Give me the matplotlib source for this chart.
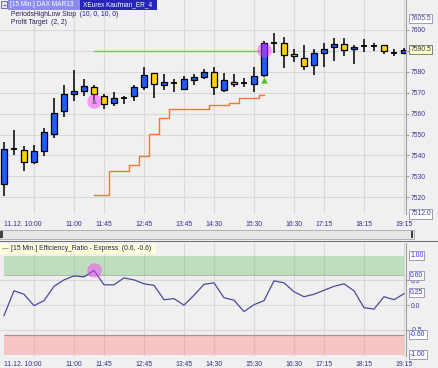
import matplotlib
matplotlib.use("Agg")
import matplotlib.pyplot as plt
from matplotlib.patches import Rectangle
import numpy as np

plt.rcParams['font.family'] = ['Liberation Sans', 'DejaVu Sans']

# ---------------- data ----------------
times = ["09:15", "09:30", "09:45", "10:00", "10:15", "10:30", "10:45", "11:00", "11:15", "11:30",
         "11:45", "12:00", "12:15", "12:30", "12:45", "13:00", "13:15", "13:30", "13:45", "14:00",
         "14:15", "14:30", "14:45", "15:00", "15:15", "15:30", "15:45", "16:00", "16:15", "16:30",
         "16:45", "17:00", "17:15", "17:30", "17:45", "18:00", "18:15", "18:30", "18:45", "19:00", "19:15"]
opens = [7526.5, 7543.0, 7542.7, 7537.0, 7542.0, 7550.3, 7561.0, 7569.3, 7571.0, 7572.9,
         7568.6, 7565.0, 7567.4, 7568.5, 7572.5, 7579.3, 7573.7, 7574.5, 7571.8, 7576.1,
         7577.7, 7579.8, 7571.3, 7575.3, 7574.5, 7574.1, 7578.5, 7593.6, 7593.6, 7588.5,
         7586.8, 7583.3, 7589.2, 7591.7, 7593.3, 7590.8, 7592.4, 7592.4, 7592.8, 7589.2, 7589.0]
highs = [7546.4, 7552.2, 7544.3, 7545.1, 7553.1, 7567.4, 7573.7, 7580.9, 7576.5, 7573.7,
         7569.4, 7570.5, 7568.6, 7573.7, 7582.5, 7579.6, 7578.8, 7576.6, 7578.0, 7578.8,
         7581.2, 7582.5, 7579.3, 7579.0, 7577.2, 7582.5, 7594.6, 7598.4, 7596.8, 7590.8,
         7592.8, 7590.8, 7593.6, 7596.0, 7596.0, 7592.8, 7595.6, 7593.6, 7592.8, 7590.8, 7591.2]
lows = [7520.4, 7540.3, 7532.7, 7535.9, 7539.5, 7548.3, 7558.3, 7566.1, 7568.6, 7565.0,
        7562.1, 7563.7, 7564.7, 7565.8, 7571.3, 7567.4, 7571.3, 7570.1, 7571.3, 7573.7,
        7576.6, 7569.0, 7570.5, 7572.9, 7572.6, 7570.5, 7577.7, 7588.9, 7581.7, 7584.9,
        7580.6, 7578.5, 7582.2, 7585.3, 7587.3, 7583.6, 7589.6, 7590.1, 7588.6, 7587.6, 7588.4]
closes = [7543.0, 7543.0, 7536.8, 7542.0, 7551.1, 7560.2, 7569.4, 7570.9, 7573.4, 7569.3,
          7564.7, 7567.4, 7567.4, 7572.5, 7578.5, 7574.1, 7575.3, 7574.5, 7576.5, 7577.7,
          7579.8, 7572.6, 7576.1, 7574.1, 7574.5, 7578.0, 7593.9, 7593.6, 7588.1, 7587.6,
          7582.8, 7588.9, 7590.9, 7593.2, 7590.5, 7592.0, 7592.4, 7592.4, 7590.1, 7589.2, 7590.5]

stop_bars = [9, 10, 11, 12, 13, 14, 15, 16, 17, 18, 19, 20, 21, 22, 23, 24, 25, 26]
stop_vals = [7520.9, 7520.9, 7532.7, 7532.7, 7535.5, 7539.8, 7550.2, 7558.1, 7562.3, 7562.3,
             7562.3, 7562.3, 7564.2, 7564.2, 7565.3, 7567.4, 7567.4, 7569.0]
target_bars = [9, 26]
target_val = 7590.1
entry_bar, entry_price = 9, 7565.8
exit_bar, exit_price = 26, 7590.4
exit_tri_price = 7576.1

er = [-0.21, 0.29, 0.22, -0.01, 0.09, 0.38, 0.51, 0.59, 0.57, 0.70,
      0.41, 0.41, 0.55, 0.51, 0.43, 0.40, 0.11, 0.13, 0.00, 0.20,
      0.42, 0.45, 0.15, 0.10, -0.13, 0.01, 0.09, 0.49, 0.45, 0.27,
      0.17, 0.22, 0.30, 0.38, 0.43, 0.29, -0.05, -0.08, 0.17, 0.11, 0.23]
er_upper, er_lower = 0.6, -0.6

tick_times = ["10:00", "11:00", "11:45", "12:45", "13:45", "14:30", "15:30", "16:30", "17:15", "18:15", "19:15"]
tick_labels = ["11.12. 10:00", "11:00", "11:45", "12:45", "13:45", "14:30", "15:30", "16:30", "17:15", "18:15", "19:15"]
price_ticks = [7520, 7530, 7540, 7550, 7560, 7570, 7580, 7590, 7600]
price_tick_labels = ["7520", "7530", "7540", "7550", "7560", "7570", "7580", "", "7600"]
price_boxes = [7605.5, 7512.0]
last_price = 7590.5
er_ticks = [-0.5, 0.0, 0.5]
er_tick_labels = ["-0.5", "0.0", "0.5"]
er_boxes = [1.0, 0.6, -0.6, -1.0]

# ---------------- figure ----------------
W, H = 438, 368
BG = '#f0f0f0'
GRID = '#d9d9d9'
FS = 4.9
fig = plt.figure(figsize=(W / 100, H / 100), dpi=100, facecolor=BG)

def fx(x):
    return x / W

def fy(y):
    return 1 - y / H

ax = fig.add_axes([0, fy(214), fx(406), 214 / H])
ax2 = fig.add_axes([0, fy(356), fx(406), (356 - 243) / H])

n = len(times)
xs = np.arange(n)
tick_pos = [times.index(t) for t in tick_times]

for a in (ax, ax2):
    a.set_facecolor(BG)
    a.set_xlim(-0.4, 40.2)
    a.set_xticks(tick_pos)
    a.set_xticklabels([])
    a.tick_params(axis='x', length=0)
    a.grid(True, color=GRID, lw=0.8, zorder=0)
    a.set_axisbelow(True)
    for s in ['top', 'left', 'bottom']:
        a.spines[s].set_visible(False)
    a.spines['right'].set_color('#a0a0a0')
    a.spines['right'].set_linewidth(0.8)
    a.yaxis.tick_right()
    a.tick_params(axis='y', length=2, color='#a0a0a0', pad=1.5, labelsize=FS)

# ---- price panel ----
ax.set_ylim(7512.0, 7614.3)
ax.set_yticks(price_ticks)
ax.set_yticklabels(price_tick_labels, color='#3a3a9a')

o = np.array(opens); c = np.array(closes); h = np.array(highs); l = np.array(lows)
ax.vlines(xs, l, h, color='black', lw=1.1, zorder=3)
is_doji = np.isclose(o, c)
up = (c > o) & ~is_doji
dn = (c < o) & ~is_doji
ax.bar(xs[up], (c - o)[up], bottom=o[up], width=0.6, color='#1f5cff', edgecolor='black', lw=0.9, zorder=4)
ax.bar(xs[dn], (o - c)[dn], bottom=c[dn], width=0.6, color='#ffd200', edgecolor='black', lw=0.9, zorder=4)
ax.hlines(c[is_doji], xs[is_doji] - 0.33, xs[is_doji] + 0.33, color='black', lw=1.3, zorder=4)

ax.step(stop_bars, stop_vals, where='mid', color='#f07838', lw=1.0, zorder=2)
ax.plot(target_bars, [target_val, target_val], color='#7cc840', lw=1.0, zorder=2)

ax.scatter([entry_bar], [entry_price], s=110, color='#ff30ff', alpha=0.45, lw=0, zorder=6)
ax.scatter([exit_bar], [exit_price], s=110, color='#ff30ff', alpha=0.45, lw=0, zorder=6)
ax.scatter([entry_bar], [entry_price], marker='^', s=14, color='#808080', lw=0, zorder=7)
ax.scatter([exit_bar], [exit_tri_price], marker='^', s=22, color='#40c040', edgecolor='#c8e060', lw=0.5, zorder=7)

for v in price_boxes:
    ax.annotate(f"{v:.1f}", xy=(1, v), xycoords=('axes fraction', 'data'), xytext=(3, 0),
                textcoords='offset points', va='center', ha='left', fontsize=FS, color='#3a3a9a',
                bbox=dict(boxstyle='square,pad=0.15', fc='white', ec='#9090a8', lw=0.6),
                annotation_clip=False, zorder=10)
ax.annotate(f"{last_price:.1f}", xy=(1, last_price), xycoords=('axes fraction', 'data'), xytext=(3, 0),
            textcoords='offset points', va='center', ha='left', fontsize=FS, color='#303050',
            bbox=dict(boxstyle='square,pad=0.15', fc='#ffffc8', ec='#707070', lw=0.6),
            annotation_clip=False, zorder=10)

# ---- ER panel ----
ax2.set_ylim(-1.026, 1.254)
ax2.set_yticks(er_ticks)
ax2.set_yticklabels(er_tick_labels, color='#3a3a9a')
ax2.fill_between([0, n - 1], er_upper, 1.0, color='#60c060', alpha=0.35, lw=0, zorder=1)
ax2.fill_between([0, n - 1], -1.0, er_lower, color='#ff8080', alpha=0.38, lw=0, zorder=1)
ax2.hlines(er_upper, 0, n - 1, color='#b8b8b8', lw=0.8, zorder=2)
ax2.hlines(er_lower, 0, n - 1, color='#b09090', lw=0.9, zorder=2)
ax2.plot(xs, er, color='#4a4aa0', lw=0.9, zorder=3)
ax2.scatter([entry_bar], [er[entry_bar]], s=110, color='#ff30ff', alpha=0.45, lw=0, zorder=6)

for v in er_boxes:
    ax2.annotate(f"{v:.2f}", xy=(1, v), xycoords=('axes fraction', 'data'), xytext=(3, 0),
                 textcoords='offset points', va='center', ha='left', fontsize=FS, color='#2a2aff',
                 bbox=dict(boxstyle='square,pad=0.15', fc='white', ec='#9090a8', lw=0.6),
                 annotation_clip=False, zorder=10)
ax2.annotate("0.25", xy=(1, 0.25), xycoords=('axes fraction', 'data'), xytext=(3, 0),
             textcoords='offset points', va='center', ha='left', fontsize=FS, color='#2a2aff',
             bbox=dict(boxstyle='square,pad=0.15', fc='white', ec='#9090a8', lw=0.6),
             annotation_clip=False, zorder=10)

# ---- time labels ----
for a, yoff in ((ax, -11), (ax2, -8)):
    for p, lab in zip(tick_pos, tick_labels):
        dx = -8 if lab.startswith('11.12.') else 0
        a.annotate(lab, xy=(p, 0), xycoords=('data', 'axes fraction'), xytext=(dx, yoff * 0.72),
                   textcoords='offset points', ha='center', va='center', fontsize=FS,
                   color='#303090', annotation_clip=False)

# ---- title bar & legends ----
def rect(x0, y0, x1, y1, **kw):
    fig.patches.append(Rectangle((fx(x0), fy(y1)), fx(x1) - fx(x0), (y1 - y0) / H,
                                 transform=fig.transFigure, figure=fig, **kw))

rect(1, 1, 7, 8, fc='#e0e0f0', ec='#606080', lw=0.6)
rect(8, 0, 80, 9.5, fc='#8c8cf0', ec='none')
rect(80, 0, 157, 9.5, fc='#2626b8', ec='none')
fig.text(fx(2.3), fy(4.6), '−', fontsize=4.5, color='#303060', va='center', ha='left')
fig.text(fx(10), fy(4.8), '[15 Min.] DAX MAR13', fontsize=4.7, color='white', va='center', ha='left')
fig.text(fx(83), fy(4.8), 'XEurex Kaufman_ER_4', fontsize=4.7, color='white', va='center', ha='left')
fig.text(fx(11), fy(14), 'PeriodsHighLow Stop  (10, 0, 10, 0)', fontsize=FS, color='#202060', va='center', ha='left')
fig.text(fx(11), fy(22), 'Profit Target  (2, 2)', fontsize=FS, color='#202060', va='center', ha='left')

# scrollbar and separator
rect(0, 230, 414, 239, fc='#e6e6e6', ec='#a8a8a8', lw=0.6)
rect(0, 231, 3, 238, fc='#404040', ec='none')
rect(411, 231, 413, 238, fc='#404040', ec='none')
rect(0, 240.5, W, 242, fc='#707070', ec='none')

# ER legend
rect(0, 243.5, 156, 254, fc='#ffffd8', ec='none')
fig.text(fx(2), fy(249), '—', fontsize=FS, color='#4a4aa0', va='center', ha='left')
fig.text(fx(11), fy(249), '[15 Min.] Efficiency_Ratio - Express  (0.6, -0.6)', fontsize=FS,
         color='#202060', va='center', ha='left')

fig.savefig('out.png', dpi=100, facecolor=BG)
